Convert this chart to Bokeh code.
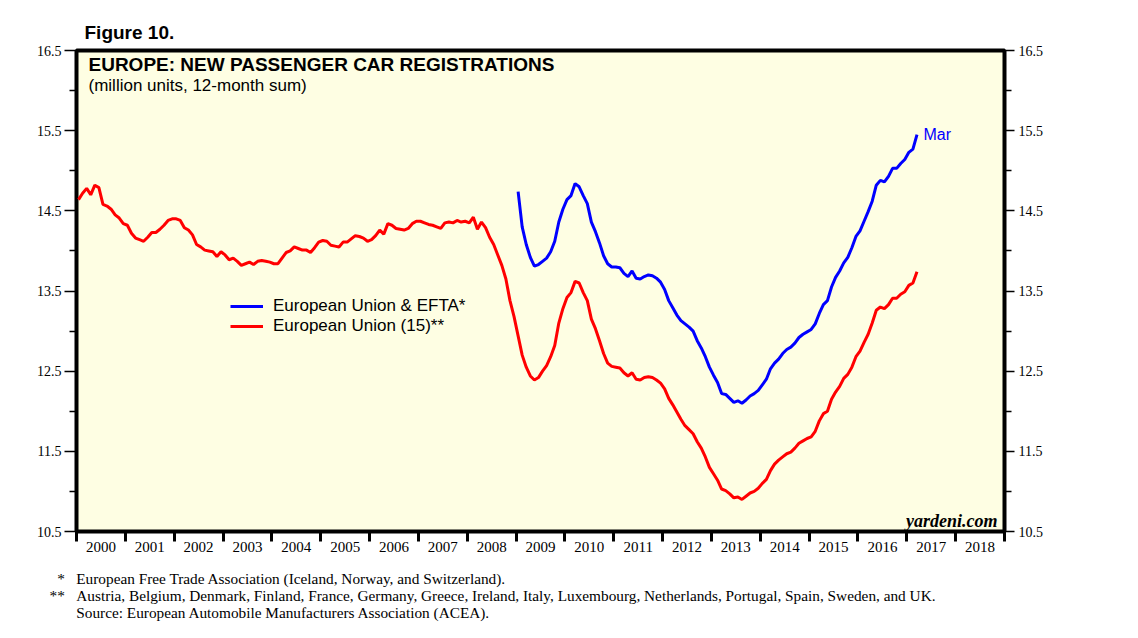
from bokeh.plotting import figure
from bokeh.models import (FixedTicker, LinearAxis, Range1d, Label, Legend, LegendItem, Title)
from bokeh.embed import file_html
from bokeh.resources import INLINE

# ---------------- data (million units, 12-month sum, monthly) ----------------
years = list(range(2000, 2019))
year_labels = [str(y) for y in years]

red_start_year = 2000   # European Union (15), Jan 2000 .. Mar 2017
eu15 = [
    14.64, 14.72, 14.78, 14.70, 14.82, 14.79, 14.58, 14.56, 14.52, 14.45, 14.41, 14.34,  # 2000
    14.32, 14.22, 14.16, 14.14, 14.12, 14.17, 14.23, 14.23, 14.27, 14.32, 14.38, 14.40,  # 2001
    14.40, 14.38, 14.29, 14.26, 14.20, 14.08, 14.05, 14.01, 14.00, 13.99, 13.93, 13.99,  # 2002
    13.95, 13.89, 13.91, 13.87, 13.82, 13.84, 13.86, 13.83, 13.87, 13.88, 13.87, 13.86,  # 2003
    13.84, 13.84, 13.91, 13.98, 14.00, 14.05, 14.03, 14.01, 14.01, 13.98, 14.04, 14.11,  # 2004
    14.13, 14.12, 14.07, 14.06, 14.05, 14.11, 14.11, 14.15, 14.19, 14.18, 14.16, 14.12,  # 2005
    14.14, 14.19, 14.26, 14.21, 14.34, 14.32, 14.28, 14.27, 14.26, 14.28, 14.34, 14.37,  # 2006
    14.37, 14.35, 14.33, 14.32, 14.30, 14.28, 14.35, 14.36, 14.35, 14.38, 14.36, 14.37,  # 2007
    14.35, 14.42, 14.27, 14.36, 14.29, 14.17, 14.08, 13.95, 13.82, 13.65, 13.38, 13.18,  # 2008
    12.94, 12.70, 12.55, 12.44, 12.39, 12.42, 12.50, 12.57, 12.68, 12.82, 13.10, 13.28,  # 2009
    13.42, 13.48, 13.62, 13.60, 13.48, 13.38, 13.15, 13.03, 12.88, 12.72, 12.60, 12.56,  # 2010
    12.55, 12.54, 12.48, 12.44, 12.48, 12.40, 12.39, 12.42, 12.43, 12.42, 12.39, 12.35,  # 2011
    12.28, 12.16, 12.08, 11.99, 11.90, 11.82, 11.77, 11.72, 11.62, 11.54, 11.43, 11.30,  # 2012
    11.22, 11.14, 11.03, 11.01, 10.97, 10.92, 10.93, 10.90, 10.94, 10.98, 11.00, 11.04,  # 2013
    11.10, 11.15, 11.26, 11.34, 11.39, 11.43, 11.47, 11.49, 11.54, 11.60, 11.63, 11.66,  # 2014
    11.68, 11.75, 11.88, 11.97, 12.00, 12.15, 12.24, 12.31, 12.41, 12.46, 12.55, 12.68,  # 2015
    12.75, 12.86, 12.96, 13.10, 13.26, 13.30, 13.28, 13.33, 13.41, 13.41, 13.46, 13.49,  # 2016
    13.57, 13.60, 13.74,                                                                  # 2017
]

blue_start_year = 2009  # European Union & EFTA, Jan 2009 .. Mar 2017
eu_efta = [
    14.74, 14.30, 14.08, 13.92, 13.81, 13.83, 13.87, 13.91, 13.99, 14.12, 14.36, 14.52,  # 2009
    14.64, 14.69, 14.84, 14.80, 14.69, 14.59, 14.36, 14.24, 14.10, 13.94, 13.84, 13.80,  # 2010
    13.80, 13.79, 13.72, 13.68, 13.75, 13.66, 13.65, 13.68, 13.70, 13.69, 13.66, 13.61,  # 2011
    13.52, 13.38, 13.29, 13.20, 13.13, 13.09, 13.05, 13.00, 12.88, 12.79, 12.68, 12.55,  # 2012
    12.45, 12.36, 12.22, 12.21, 12.16, 12.11, 12.13, 12.10, 12.14, 12.19, 12.22, 12.26,  # 2013
    12.33, 12.40, 12.53, 12.60, 12.65, 12.72, 12.77, 12.80, 12.85, 12.92, 12.96, 12.99,  # 2014
    13.02, 13.09, 13.22, 13.33, 13.38, 13.55, 13.67, 13.75, 13.85, 13.92, 14.04, 14.18,  # 2015
    14.25, 14.37, 14.49, 14.62, 14.82, 14.88, 14.86, 14.93, 15.03, 15.03, 15.09, 15.14,  # 2016
    15.23, 15.27, 15.45,                                                                  # 2017
]

y_major = [10.5, 11.5, 12.5, 13.5, 14.5, 15.5, 16.5]
y_minor = [11, 12, 13, 14, 15, 16]


def month_axis(start_year, n):
    # decimal-year position of each monthly observation (mid-month)
    return [start_year + (i + 0.5) / 12.0 for i in range(n)]


x_red = month_axis(red_start_year, len(eu15))
x_blue = month_axis(blue_start_year, len(eu_efta))

# ---------------- layout helpers (page pixel -> data) ----------------
FRAME_L, FRAME_R, FRAME_T, FRAME_B = 76, 1004, 50, 531
W, H = 1122, 634
X0, X1, Y0, Y1 = 2000, 2019, 10.5, 16.5


def px_x(px):
    return X0 + (px - FRAME_L) * (X1 - X0) / (FRAME_R - FRAME_L)


def px_y(py):
    return Y1 - (py - FRAME_T) * (Y1 - Y0) / (FRAME_B - FRAME_T)


SERIF = "Liberation Serif"
SANS = "Liberation Sans"

p = figure(width=W, height=H,
           x_range=Range1d(X0, X1), y_range=Range1d(Y0, Y1),
           output_backend="svg", toolbar_location=None,
           x_axis_location=None, y_axis_location=None,
           min_border_left=FRAME_L, min_border_right=W - FRAME_R,
           min_border_top=FRAME_T, min_border_bottom=H - FRAME_B,
           background_fill_color="#FEFEE3", border_fill_color="white",
           outline_line_color="black", outline_line_width=4)
p.grid.visible = False

p.title = Title(text="Figure 10.", align="left", offset=8, standoff=16,
                text_font=SANS, text_font_style="bold", text_font_size="19px",
                text_color="black")

# bottom axis: labels centred in each year, ticks at year boundaries
xaxis = LinearAxis(
    ticker=FixedTicker(ticks=[y + 0.5 for y in years], minor_ticks=years + [years[-1] + 1]),
    major_label_overrides={y + 0.5: lab for y, lab in zip(years, year_labels)},
    major_tick_in=0, major_tick_out=0,
    minor_tick_in=0, minor_tick_out=10,
    minor_tick_line_width=3, minor_tick_line_color="black",
    axis_line_color=None,
    major_label_standoff=0,
    major_label_text_font=SERIF, major_label_text_font_size="15px",
    major_label_text_color="black")
p.add_layout(xaxis, "below")


def make_yaxis(major_out, standoff):
    return LinearAxis(
        ticker=FixedTicker(ticks=y_major, minor_ticks=y_minor),
        major_tick_in=0, major_tick_out=major_out,
        minor_tick_in=0, minor_tick_out=7,
        major_tick_line_width=1.5, minor_tick_line_width=1.5,
        major_tick_line_color="black", minor_tick_line_color="black",
        axis_line_color=None,
        major_label_standoff=standoff,
        major_label_text_font=SERIF, major_label_text_font_size="14px",
        major_label_text_color="black")


p.add_layout(make_yaxis(12, 3), "left")
p.add_layout(make_yaxis(10, 4), "right")

r_red = p.line(x_red, eu15, line_color="#FF0000", line_width=3)
r_blue = p.line(x_blue, eu_efta, line_color="#0000FF", line_width=3)

legend = Legend(items=[LegendItem(label="European Union & EFTA*", renderers=[r_blue]),
                       LegendItem(label="European Union (15)**", renderers=[r_red])],
                location=(154, 195), padding=0, spacing=0,
                glyph_width=33, glyph_height=20, label_height=20,
                label_standoff=10,
                label_text_font=SANS, label_text_font_size="17px",
                label_text_color="black",
                background_fill_alpha=0, border_line_alpha=0)
p.add_layout(legend)

labels = [
    Label(x=px_x(88), y=px_y(64), text="EUROPE: NEW PASSENGER CAR REGISTRATIONS",
          text_font=SANS, text_font_style="bold", text_font_size="19px",
          text_color="black", text_baseline="middle"),
    Label(x=px_x(88), y=px_y(85), text="(million units, 12-month sum)",
          text_font=SANS, text_font_size="17px", text_color="black",
          text_baseline="middle"),
    Label(x=px_x(923), y=px_y(134), text="Mar", text_font=SANS,
          text_font_size="16px", text_color="#0000FF", text_baseline="middle"),
    Label(x=px_x(997), y=px_y(520), text="yardeni.com", text_font=SERIF,
          text_font_style="bold italic", text_font_size="18px", text_color="black",
          text_align="right", text_baseline="middle"),
]
for lab in labels:
    p.add_layout(lab)

# footnotes below the x axis (one multi-line title block)
NB = "\u00a0"
foot_marks = [NB * 2 + "*" + NB * 3, "**" + NB * 3, NB * 7]
foot_texts = [
    "European Free Trade Association (Iceland, Norway, and Switzerland).",
    "Austria, Belgium, Denmark, Finland, France, Germany, Greece, Ireland, Italy, Luxembourg, Netherlands, Portugal, Spain, Sweden, and UK.",
    "Source: European Automobile Manufacturers Association (ACEA).",
]
foot_block = "\n".join(m + t for m, t in zip(foot_marks, foot_texts))
p.add_layout(Title(text=foot_block, align="left", offset=-27, standoff=26,
                   text_font=SERIF, text_font_size="15.3px", text_color="black",
                   text_font_style="normal", text_line_height=1.0), "below")

open("out.html", "w").write(file_html(p, INLINE))
